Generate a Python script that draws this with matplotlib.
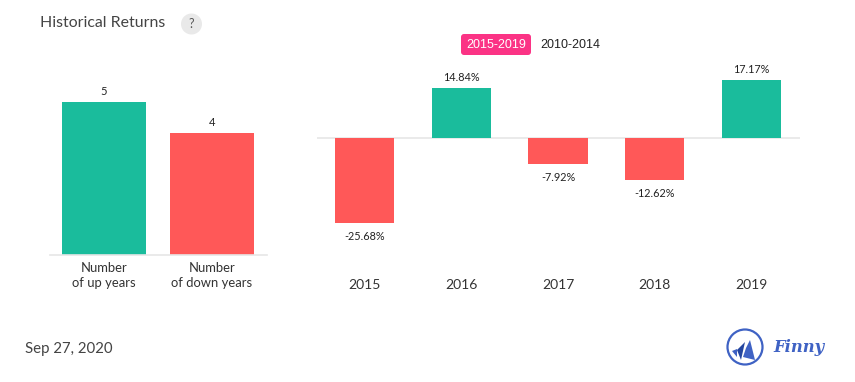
#!/usr/bin/env python3
import matplotlib
matplotlib.use('Agg')
import matplotlib.pyplot as plt
from matplotlib.patches import Circle, FancyBboxPatch, Polygon

GREEN = '#1abc9c'
RED = '#ff5858'
GRID = '#e6e6e6'
BLUE = '#3f62c4'

count_labels = ['Number\nof up years', 'Number\nof down years']
count_values = [5, 4]

years = ['2015', '2016', '2017', '2018', '2019']
returns = [-25.68, 14.84, -7.92, -12.62, 17.17]

W, H = 855, 382
plt.rcParams['font.family'] = ['Lato', 'DejaVu Sans']

fig = plt.figure(figsize=(W / 100, H / 100), dpi=100, facecolor='white')


def px_axes(x0, y0, x1, y1):
    # pixel box of the picture, y going down
    ax = fig.add_axes([x0 / W, (H - y1) / H, (x1 - x0) / W, (y1 - y0) / H])
    ax.patch.set_alpha(0)
    for s in ax.spines.values():
        s.set_visible(False)
    return ax


# overlay in pixels for title, button, date and logo
bg = px_axes(0, 0, W, H)
bg.set_xlim(0, W)
bg.set_ylim(H, 0)
bg.axis('off')

bg.text(40, 23, 'Historical Returns', fontsize=11.4, color='#444444', va='center', ha='left')
bg.add_patch(Circle((191.5, 24), 10.5, color='#e9e9e9', lw=0))
bg.text(191.5, 24, '?', fontsize=9, color='#555555', va='center', ha='center')

bg.add_patch(FancyBboxPatch((461, 34), 70, 21, boxstyle='round,pad=0,rounding_size=3',
                            color='#fb3385', lw=0))
bg.text(496, 44.5, '2015-2019', fontsize=9, family='Liberation Sans', color='white',
        va='center', ha='center')
bg.text(570, 44.5, '2010-2014', fontsize=9, family='Liberation Sans', color='#222222',
        va='center', ha='center')

bg.text(25, 349, 'Sep 27, 2020', fontsize=10.8, color='#444444', va='center', ha='left')

# logo
bg.add_patch(Circle((745, 347), 17.5, fill=False, ec=BLUE, lw=1.6))
bg.add_patch(Polygon([(732, 351), (737, 349), (737, 357)], color=BLUE, lw=0))
bg.add_patch(Polygon([(741, 360), (737, 350), (745, 342), (743, 351)], color='#24459f', lw=0))
bg.add_patch(Polygon([(755, 360), (743, 357), (746, 348), (750, 340)], color=BLUE, lw=0))
bg.text(773, 348, 'Finny', fontsize=11.8, family='DejaVu Serif', style='italic',
        fontweight='bold', color=BLUE, va='center', ha='left')

# left chart: counts
ax1 = px_axes(50, 102, 267, 255)
ax1.set_xlim(-0.5, 1.509)
ax1.set_ylim(0, 5)
ax1.bar(range(2), count_values, width=0.778, color=[GREEN, RED], zorder=2)
for i, v in enumerate(count_values):
    ax1.annotate(str(v), (i, v), xytext=(0, 3.5), textcoords='offset points', ha='center',
                 va='bottom', fontsize=8, color='#222222', annotation_clip=False)
ax1.spines['bottom'].set_visible(True)
ax1.spines['bottom'].set_color(GRID)
ax1.spines['bottom'].set_linewidth(1.2)
ax1.set_xticks(range(2))
ax1.set_xticklabels(count_labels, fontsize=9.4, color='#333333', linespacing=1.35)
ax1.tick_params(axis='x', length=0, pad=5)
ax1.set_yticks([])

# right chart: yearly returns
scale = 3.34  # px per percent
ax2 = px_axes(317, 60, 800, 240)
ax2.set_xlim(-0.49, 4.5)
ax2.set_ylim((137.5 - 240) / scale, (137.5 - 60) / scale)
ax2.axhline(0, color=GRID, lw=1.2, zorder=1)
ax2.bar(range(5), returns, width=0.61, color=[GREEN if r > 0 else RED for r in returns], zorder=2)
for i, r in enumerate(returns):
    off = 3.5 if r > 0 else -5.8
    ax2.annotate(f'{r:.2f}%', (i, r), xytext=(0, off), textcoords='offset points', ha='center',
                 va='bottom' if r > 0 else 'top', fontsize=7.8, color='#222222')
ax2.set_xticks(range(5))
ax2.set_xticklabels([])
ax2.set_yticks([])
ax2.tick_params(axis='x', length=0)
for i, y in enumerate(years):
    ax2.annotate(y, (i, 0), xycoords=('data', 'axes fraction'), xytext=(0, -32.5),
                 textcoords='offset points', ha='center', va='center', fontsize=10, color='#333333')

fig.savefig('out.png', dpi=100)
